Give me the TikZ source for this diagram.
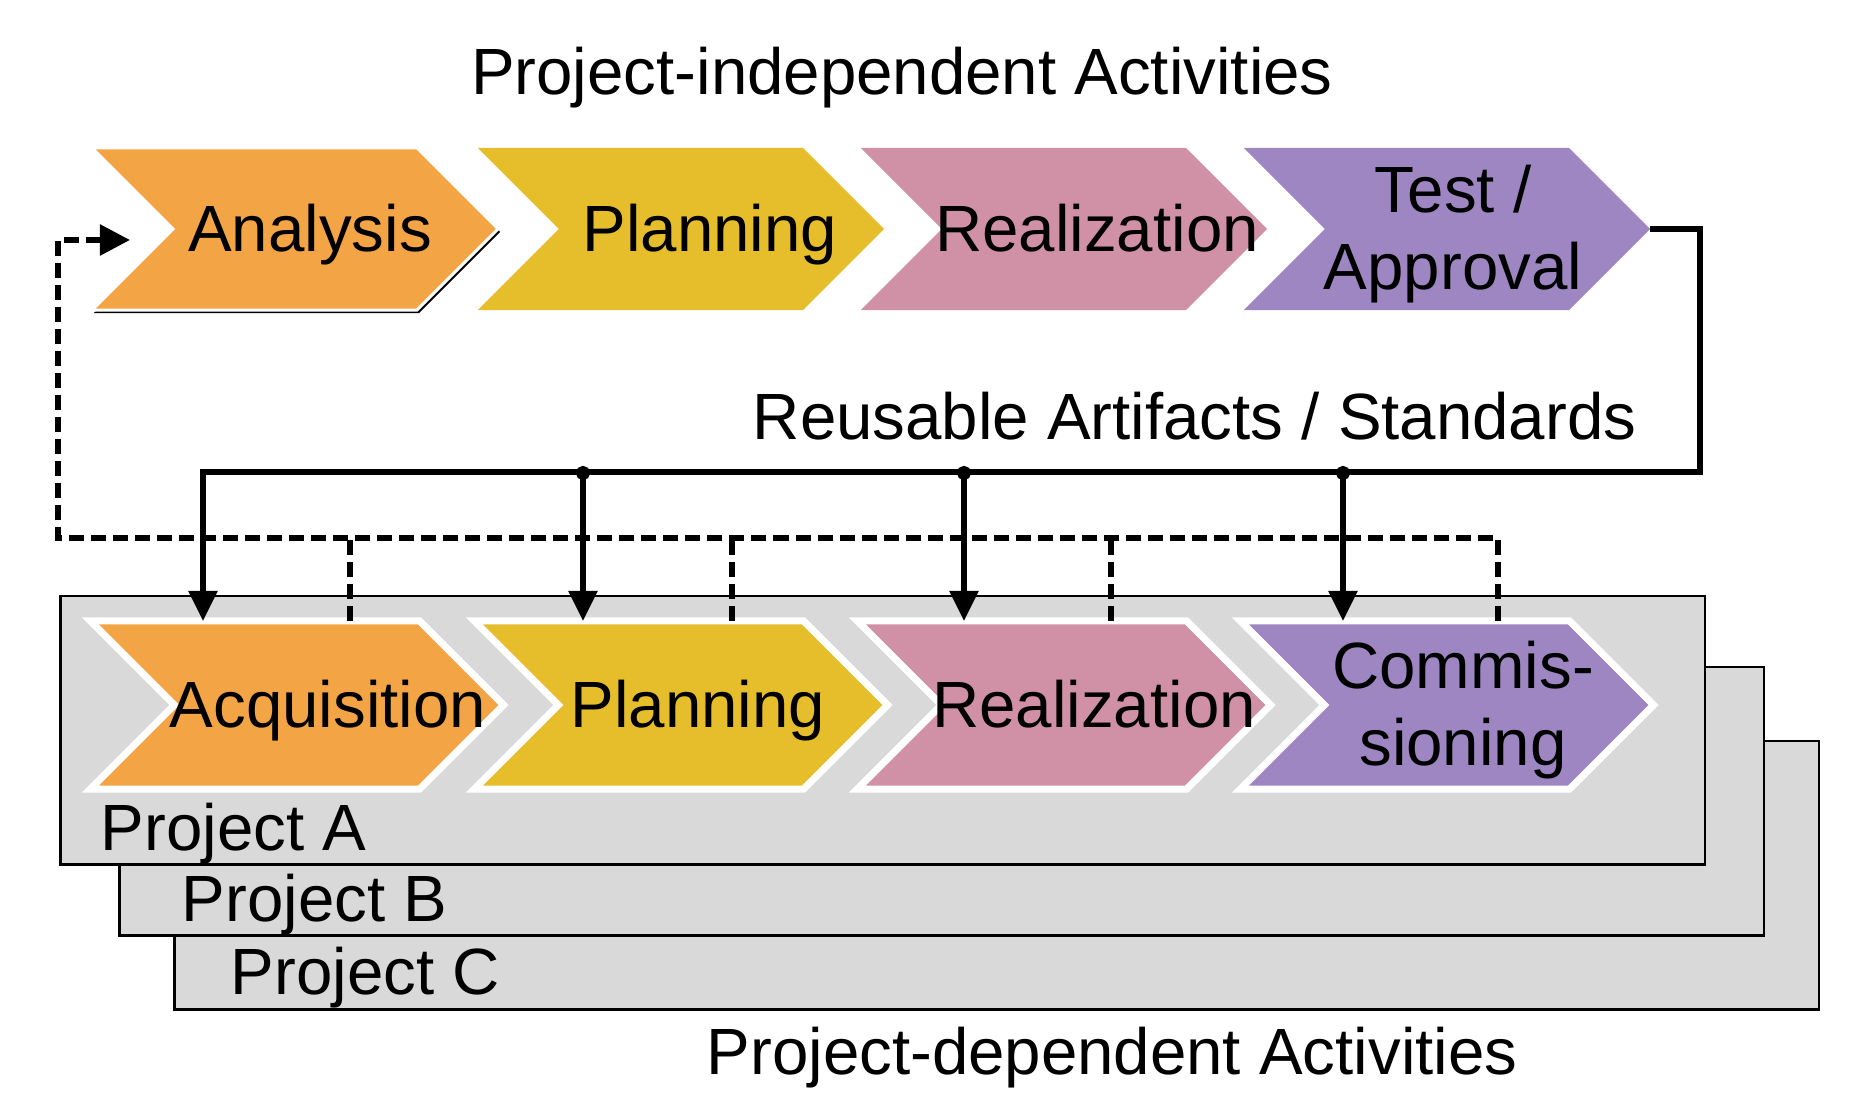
\documentclass[tikz,border=0pt]{standalone}
\usepackage{fontspec}
\setmainfont{Liberation Sans}
\usetikzlibrary{shapes.symbols,arrows.meta,shadows}

\definecolor{chevorange}{HTML}{F3A546}
\definecolor{chevyellow}{HTML}{E6BD2A}
\definecolor{chevpink}{HTML}{D091A6}
\definecolor{chevpurple}{HTML}{9D86C1}
\definecolor{boxgray}{HTML}{D9D9D9}

\tikzset{
  chev/.style={shape=signal, signal from=west, signal to=east, signal pointer angle=90,
    inner sep=0pt, outer sep=0pt, minimum width=4.06cm, minimum height=1.62cm, fill=#1, draw=none},
  chevframed/.style={chev=#1, draw=white, line width=0.07cm, minimum width=4.13cm, minimum height=1.68cm},
  every label/.style={yshift=-0.05cm, align=center},
  word/.style={text height=0.48cm, text depth=0.14cm},
  projbox/.style={draw=black, fill=boxgray, line width=0.025cm, inner sep=0pt, anchor=north west,
    minimum width=16.44cm, minimum height=2.68cm},
  caption/.style={inner sep=0pt},
  flow/.style={line width=0.055cm, -{Triangle[length=0.3cm,width=0.28cm]}},
  branch/.style={line width=0.055cm, arrows={Circle[length=0.14cm]-Triangle[length=0.3cm,width=0.28cm]}},
  back/.style={line width=0.055cm, dash pattern=on 0.15cm off 0.07cm},
}

\begin{document}
\begin{tikzpicture}[x=0.01cm, y=-0.01cm, font=\fontsize{18.6}{21.8}\selectfont]
    \useasboundingbox (0,0) rectangle (1854,1098);

    % project layers, back to front
    \node[projbox] (pc) at (173,740) {};
    \node[projbox] (pb) at (118,666) {};
    \node[projbox] (pa) at (59,595) {};
    \node[caption, anchor=base west] (lc) at (230,995) {Project C};
    \node[caption, anchor=base west] (lb) at (181,922) {Project B};
    \node[caption, anchor=base west] (la) at (100,851) {Project A};

    % project-independent chain
    \node[chev=chevorange, draw=white, line width=0.03cm,
          drop shadow={shadow xshift=0.02cm, shadow yshift=-0.03cm, fill=black, opacity=1},
          label={[word, xshift=0.15cm]center:Analysis}] (ana) at (295,229) {};
    \node[chev=chevyellow, label={[word, xshift=0.29cm]center:Planning}] (pl1) at (681,229) {};
    \node[chev=chevpink, label={[word, xshift=0.33cm]center:Realization}] (rea1) at (1064,229) {};
    \node[chev=chevpurple, label={[xshift=0.06cm]center:Test /\\Approval}] (tst) at (1447,229) {};

    % project-dependent chain
    \node[chevframed=chevorange, label={[word, xshift=0.31cm]center:Acquisition}] (acq) at (297,705) {};
    \node[chevframed=chevyellow, label={[word, xshift=0.17cm]center:Planning}] (pl2) at (681,705) {};
    \node[chevframed=chevpink, label={[word, xshift=0.30cm]center:Realization}] (rea2) at (1064,705) {};
    \node[chevframed=chevpurple, label={[xshift=0.16cm]center:Commis-\\sioning}] (com) at (1447,705) {};

    \node[caption, anchor=base] (tindep) at (902,95) {Project-independent Activities};
    \node[caption, anchor=base east] (treuse) at (1637,440) {Reusable Artifacts / Standards};
    \node[caption, anchor=base west] (tdep) at (706,1075) {Project-dependent Activities};

    % feedback (dashed)
    \coordinate (fb) at (130,240);
    \draw[back, -{Triangle[length=0.3cm,width=0.3cm]}] (com.north -| 1498,0) -- (1498,538) -- (58,538) -- (58,240) -- (fb);
    \foreach \n/\x in {acq/350, pl2/732, rea2/1111}
        \draw[back] (\n.north -| \x,0) -- (\x,538);

    % reuse bus (solid)
    \draw[flow] (tst.east) -- (1700,229) -- (1700,472) -- (203,472) -- (acq.north -| 203,0);
    \foreach \n/\x in {pl2/583, rea2/964, com/1343}
        \draw[branch] (\x,466) -- (\n.north -| \x,0);
\end{tikzpicture}
\end{document}
